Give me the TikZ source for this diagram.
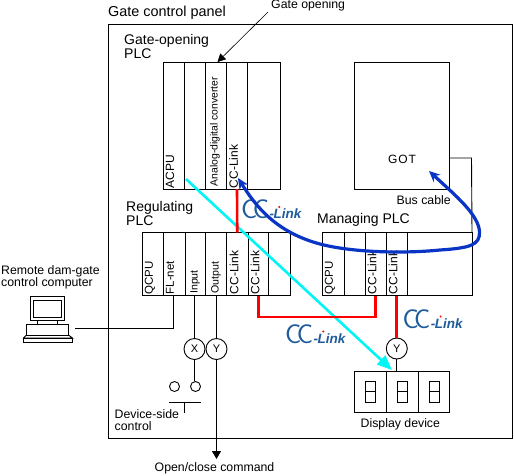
\documentclass[tikz,border=0pt]{standalone}
\usepackage{fontspec}
\setmainfont{Liberation Sans}
\usetikzlibrary{arrows.meta}
\definecolor{logoblue}{HTML}{1F5C9C}
\definecolor{busblue}{HTML}{0A35C4}
\definecolor{wirecyan}{HTML}{00F5F5}
\newcommand{\fs}[1]{\fontsize{#1}{#1}\selectfont}
\newcommand{\cclogo}{{\color{logoblue}\sffamily\fs{27}C\kern-4.5pt C\kern0.5pt\rmfamily\bfseries\itshape\fs{13.5}-\kern-0.5pt Link}}
\newcommand{\modbox}[5]{\node[modulebox, minimum width={(#3)-(#2)}, minimum height={(#5)-(#4)}] (#1) at ({((#2)+(#3))/2},{((#4)+(#5))/2}) {};}
\newcommand{\vlabel}[4]{\node[vtext, font=\fs{#1}] (#2) at #3 {#4};}
\tikzset{
  thinline/.style={draw=black, line width=0.9pt},
  modulebox/.style={thinline, inner sep=0pt, outer sep=0pt},
  vtext/.style={rotate=90, anchor=west, inner sep=0pt},
  smalltext/.style={font=\fs{12.3}, inner sep=0pt, anchor=west, align=left},
  headtext/.style={font=\fs{14}, inner sep=0pt, anchor=west, align=left},
  logotext/.style={inner sep=0pt, anchor=base west},
  redwire/.style={draw={rgb,255:red,255;green,0;blue,0}, line width=2.6pt},
  relaycircle/.style={thinline, circle, minimum size=21pt, inner sep=0pt, font=\fs{11}},
  contact/.style={thinline, circle, minimum size=10pt, inner sep=0pt},
}
\begin{document}
\begin{tikzpicture}[x=1pt,y=-1pt]
\useasboundingbox (0,0) rectangle (514,475);
\fill[white] (0,0) rectangle (514,475);
% panel
\node[modulebox, minimum width=404.5pt, minimum height=414pt] (panel) at (310.5,231) {};
\node[headtext, font=\fs{14.4}] (paneltitle) at (108,12.5) {Gate control panel};
% gate-opening PLC
\node[headtext, text width=90pt] (gatetitle) at (124,46) {\baselineskip=15.5pt Gate-opening\\PLC};
\modbox{g1}{163}{184.5}{62}{189}
\modbox{g2}{184.5}{205.5}{62}{189}
\modbox{g3}{205.5}{226.5}{62}{189}
\modbox{g4}{226.5}{247.5}{62}{189}
\modbox{g5}{247.5}{280.5}{62}{189}
\vlabel{12}{gl1}{(170,188.5)}{ACPU}
\vlabel{10.4}{gl3}{(215,186.5)}{Analog-digital converter}
\vlabel{12}{gl4}{(233.5,188.5)}{CC-Link}
\node[smalltext] (gatelabel) at (271,5) {Gate opening};
\coordinate (gatefrom) at (268,12);
\draw[thinline, line width=0.6pt, -{Triangle[length=8pt,width=8pt]}] (gatefrom) -- (g3.north -| 217.5,0);
% GOT
\modbox{got}{354.5}{449.5}{62.5}{189.5}
\node[font=\fs{12}, inner sep=0pt] (gotlabel) at (402,159) {G\kern1pt O\kern1pt T};
\node[smalltext] (buslabel) at (396.5,200) {Bus cable};
% regulating PLC
\node[headtext, text width=90pt] (regtitle) at (126,213) {\baselineskip=15.5pt Regulating\\PLC};
\modbox{r1}{142.5}{163.5}{232.5}{295.5}
\modbox{r2}{163.5}{185}{232.5}{295.5}
\modbox{r3}{185}{205.5}{232.5}{295.5}
\modbox{r4}{205.5}{226.5}{232.5}{295.5}
\modbox{r5}{226.5}{248}{232.5}{295.5}
\modbox{r6}{248}{268.5}{232.5}{295.5}
\modbox{r7}{268.5}{290.5}{232.5}{295.5}
\vlabel{11.5}{rl1}{(150,294.5)}{QCPU}
\vlabel{11.5}{rl2}{(170,294.5)}{FL-net}
\vlabel{10.6}{rl3}{(195,294)}{Input}
\vlabel{10.6}{rl4}{(216,294)}{Output}
\vlabel{12}{rl5}{(234,294.5)}{CC-Link}
\vlabel{12}{rl6}{(255,294.5)}{CC-Link}
% managing PLC
\node[headtext] (mantitle) at (317,220) {Managing PLC};
\modbox{m1}{322.5}{344}{232.5}{295.5}
\modbox{m2}{344}{365}{232.5}{295.5}
\modbox{m3}{365}{386}{232.5}{295.5}
\modbox{m4}{386}{407}{232.5}{295.5}
\modbox{m5}{407}{472}{232.5}{295.5}
\vlabel{11.5}{ml1}{(330,294.5)}{QCPU}
\vlabel{12}{ml3}{(372,294.5)}{CC-Link}
\vlabel{12}{ml4}{(393,294.5)}{CC-Link}
% bus cable
\coordinate (buscorner) at (471.5,158);
\draw[thinline] (got.east |- buscorner) -- (buscorner) -- (m5.north east);
% logos
\node[logotext] (logoA) at (241,218.5) {\cclogo};
\node[logotext] (logoB) at (285,343) {\cclogo};
\node[logotext] (logoC) at (402.3,328) {\cclogo};
\foreach \l in {logoA,logoB,logoC}
  \fill[red] ([shift={(38.3,-11.5)}]\l.base west) circle (1.1);
% relays
\node[relaycircle] (relayX) at (194.5,349) {X};
\node[relaycircle] (relayY) at (216.5,349) {Y};
\node[relaycircle] (relayZ) at (396.8,348.5) {Y};
\node[contact] (contL) at (174.5,386.5) {};
\node[contact] (contR) at (195.5,386.5) {};
\draw[thinline] (r3.south -| relayX) -- (relayX.north);
\draw[thinline] (r4.south -| relayY) -- (relayY.north);
\draw[thinline] (relayX.south) -- (contR.north -| relayX);
\draw[thinline, -{Triangle[length=8pt,width=9pt]}] (relayY.south) -- (216.5,459);
\node[smalltext, anchor=center] (cmdlabel) at (214.5,468) {Open/close command};
% device-side control
\coordinate (barL) at (169,402.5);
\coordinate (barR) at (201,402.5);
\coordinate (stemTop) at (184,402.5);
\coordinate (stemEnd) at (184,413);
\draw[thinline] (barL) -- (barR);
\draw[thinline] (stemTop) -- (stemEnd);
\node[smalltext, fill=none] (devlabel) at (114.5,420) {\baselineskip=14pt Device-side\\control};
% computer
\node[smalltext] (pclabel) at (1,277) {\baselineskip=14pt Remote dam-gate\\control computer};
\draw[thinline] (30.5,296.7) rectangle (64.5,320.5);
\draw[thinline] (33.5,300) rectangle (61.5,317);
\draw[thinline] (37.5,320.5) rectangle (57.5,324.5);
\draw[thinline] (26.5,324.5) rectangle (68.5,335);
\draw[thinline] (26.5,335) -- (23.5,338) -- (72.5,338) -- (68.5,335);
\node[modulebox, minimum width=49pt, minimum height=4.5pt] (pc) at (48,340.3) {};
\coordinate (pcport) at (75,328);
\draw[thinline] (r2.south -| 173.5,0) -- (173.5,328) -- (pcport);
% display
\modbox{d1}{354.5}{386.5}{371.5}{412}
\modbox{d2}{386.5}{418}{371.5}{412}
\modbox{d3}{418}{449.5}{371.5}{412}
\foreach \x in {365.7,397.7,429.7}{
  \draw[thinline] (\x,381) rectangle (\x+10,402);
  \draw[thinline] (\x,391.5) -- (\x+10,391.5);
}
\node[smalltext] (displabel) at (360.5,424) {Display device};
\draw[thinline] (relayZ.south) -- (d2.north -| relayZ);
% cyan wire
\coordinate (cyanstart) at (186,179);
\coordinate (cyanend) at (392,370);
\draw[draw=wirecyan, line width=2.6pt, -{Triangle[length=15pt,width=12pt]}] (cyanstart) -- (cyanend);
% red wires
\draw[redwire] (g4.south) -- (r5.north);
\draw[redwire] (r6.south) -- (r6.south |- 0,317) -| (m3.south);
\draw[redwire] (m4.south) -- (relayZ.north -| m4.south);
% blue wire
\coordinate (blueA) at (238,178);
\coordinate (blueB) at (429,171);
\draw[draw=busblue, line width=3.2pt, {Stealth[length=11pt,width=10pt]}-{Stealth[length=11pt,width=10pt]}]
  (blueA) .. controls (255,205) and (275,232) .. (320,244)
  .. controls (350,252) and (400,254) .. (440,250)
  .. controls (470,248) and (480,245) .. (479.5,232)
  .. controls (479,215) and (455,195) .. (blueB);
\end{tikzpicture}
\end{document}
